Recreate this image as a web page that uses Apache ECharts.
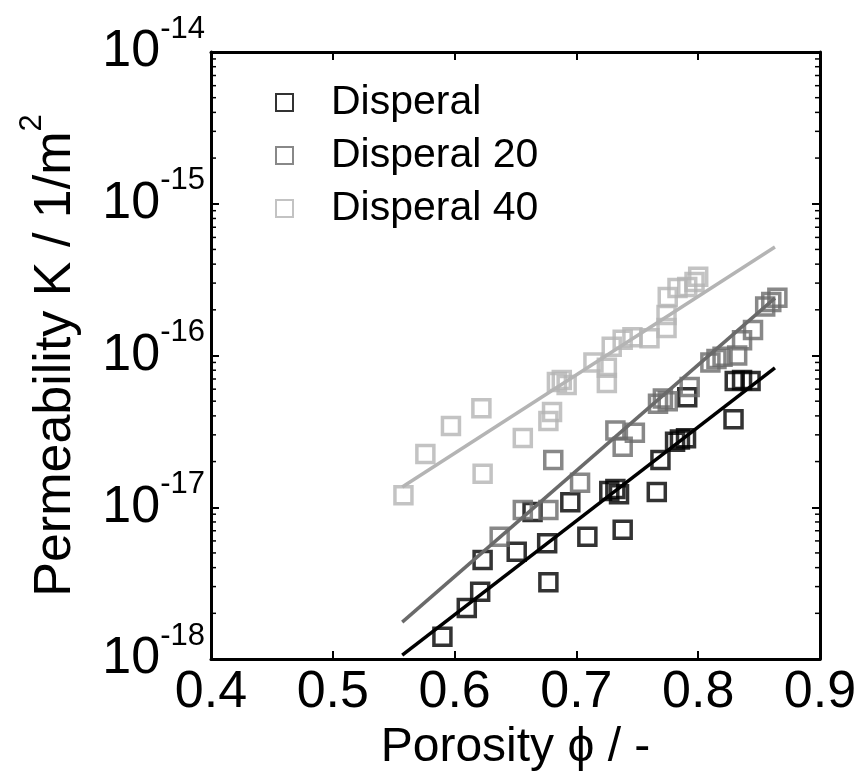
<!DOCTYPE html>
<html><head><meta charset="utf-8">
<script src="https://cdn.jsdelivr.net/npm/echarts@6/dist/echarts.min.js"></script>
<style>html,body{margin:0;padding:0;background:#fff}#c{width:860px;height:783px}</style>
</head><body><div id="c"></div>
<script>
const seriesNames = ['Disperal', 'Disperal 20', 'Disperal 40'];
const seriesColors = ['#000000', '#6a6a6a', '#b4b4b4'];

const disperalX = [0.590,0.610,0.621,0.623,0.651,0.677,0.676,0.664,0.695,0.709,0.727,0.732,0.735,0.738,0.766,0.769,0.781,0.785,0.790,0.791,0.829,0.830,0.836,0.843];
const disperalK = [1.40e-18,2.17e-18,2.77e-18,4.5e-18,5.1e-18,3.2e-18,5.8e-18,9.3e-18,1.08e-17,6.4e-18,1.28e-17,1.32e-17,1.22e-17,7.1e-18,1.26e-17,2.05e-17,2.7e-17,2.8e-17,2.85e-17,5.3e-17,3.8e-17,6.8e-17,6.9e-17,6.8e-17];

const disperal20X = [0.637,0.656,0.677,0.681,0.703,0.732,0.738,0.748,0.767,0.771,0.775,0.793,0.810,0.815,0.820,0.832,0.836,0.845,0.855,0.860,0.865];
const disperal20K = [6.4e-18,9.6e-18,9.6e-18,2.05e-17,1.45e-17,3.2e-17,2.5e-17,3.1e-17,4.8e-17,5.2e-17,5.0e-17,6.2e-17,9.0e-17,9.5e-17,9.8e-17,1.0e-16,1.26e-16,1.47e-16,2.1e-16,2.25e-16,2.4e-16];

const disperal40X = [0.558,0.576,0.597,0.622,0.623,0.656,0.677,0.680,0.684,0.688,0.692,0.714,0.725,0.725,0.729,0.738,0.746,0.760,0.774,0.774,0.775,0.783,0.791,0.797,0.800];
const disperal40K = [1.2e-17,2.24e-17,3.43e-17,4.5e-17,1.66e-17,2.86e-17,3.7e-17,4.25e-17,6.7e-17,6.9e-17,6.4e-17,9.0e-17,8.3e-17,6.6e-17,1.14e-16,1.27e-16,1.32e-16,1.3e-16,1.52e-16,1.85e-16,2.43e-16,2.79e-16,2.83e-16,3.05e-16,3.3e-16];

const fitX = [0.557, 0.863];
const fitDisperalK = [1.06e-18, 8.3e-17];
const fitDisperal20K = [1.75e-18, 2.39e-16];
const fitDisperal40K = [1.36e-17, 5.19e-16];

const minorMultipliers = [2,3,4,5,6,7,8,9];
const minorDecades = [1e-18, 1e-17, 1e-16, 1e-15];

const FONT = 'Liberation Sans, Arial, sans-serif';

const pts = (xs, ks) => xs.map((x, i) => [x, ks[i]]);
const minorTicks = [];
minorDecades.forEach(d => minorMultipliers.forEach(m => minorTicks.push([0.4, m * d])));

function scatter(i, xs, ks) {
  return {
    name: seriesNames[i], type: 'scatter', data: pts(xs, ks), symbol: 'rect', symbolSize: 17,
    itemStyle: { color: 'rgba(255,255,255,0)', borderColor: seriesColors[i], borderWidth: 3.5 },
    z: 3 + i, silent: true
  };
}
function fit(i, ks) {
  return {
    name: 'fit' + i, type: 'line', data: pts(fitX, ks), symbol: 'none',
    lineStyle: { color: seriesColors[i], width: 3.5 }, z: 10, silent: true
  };
}

const chart = echarts.init(document.getElementById('c'));
const yLabelRich = {
  b: { fontSize: 52, fontFamily: FONT, color: '#000', verticalAlign: 'middle' },
  e: { fontSize: 31, fontFamily: FONT, color: '#000', verticalAlign: 'middle', padding: [0, 0, 46, 0] }
};
const tickStyle = { show: true, inside: true, length: 8, lineStyle: { color: '#000', width: 2 } };
const lineStyle = { show: true, lineStyle: { color: '#000', width: 3 } };

chart.setOption({
  animation: false,
  backgroundColor: '#fff',
  grid: { left: 211, right: 40, top: 52, bottom: 124, outerBoundsMode: 'none' },
  legend: {
    data: seriesNames, orient: 'vertical', left: 270, top: 77, icon: 'rect',
    itemWidth: 17, itemHeight: 17, itemGap: 12, selectedMode: false,
    textStyle: { fontSize: 41, lineHeight: 41, fontFamily: FONT, color: '#000', padding: [0, 0, 0, 33] }
  },
  xAxis: [{
    type: 'value', min: 0.4, max: 0.9, interval: 0.1, position: 'bottom',
    axisLine: lineStyle, axisTick: tickStyle, splitLine: { show: false },
    axisLabel: { fontSize: 52, fontFamily: FONT, color: '#000', margin: 8, formatter: v => v.toFixed(1) },
    name: 'Porosity \u03D5 / -', nameLocation: 'middle', nameGap: 51,
    nameTextStyle: { fontSize: 48, fontFamily: FONT, color: '#000' }
  }, {
    type: 'value', min: 0.4, max: 0.9, interval: 0.1, position: 'top',
    axisLine: lineStyle, axisTick: tickStyle, splitLine: { show: false }, axisLabel: { show: false }
  }],
  yAxis: [{
    type: 'log', logBase: 10, min: 1e-18, max: 1e-14, position: 'left',
    axisLine: lineStyle, axisTick: tickStyle, splitLine: { show: false }, minorTick: { show: false },
    axisLabel: {
      margin: 6, color: '#000',
      formatter: v => '{b|10}{e|' + Math.round(Math.log10(v)) + '}',
      rich: yLabelRich
    },
    name: '{a|Permeability K / 1/m}{s|2}', nameLocation: 'middle', nameRotate: 90, nameGap: 117,
    nameTextStyle: {
      color: '#000',
      rich: {
        a: { fontSize: 52, fontFamily: FONT, color: '#000', verticalAlign: 'middle' },
        s: { fontSize: 31, fontFamily: FONT, color: '#000', verticalAlign: 'middle', padding: [0, 0, 46, 0] }
      }
    }
  }, {
    type: 'log', logBase: 10, min: 1e-18, max: 1e-14, position: 'right',
    axisLine: lineStyle, axisTick: tickStyle, splitLine: { show: false }, axisLabel: { show: false }
  }],
  series: [
    scatter(0, disperalX, disperalK),
    scatter(1, disperal20X, disperal20K),
    scatter(2, disperal40X, disperal40K),
    fit(0, fitDisperalK), fit(1, fitDisperal20K), fit(2, fitDisperal40K),
    {
      name: 'minorTicks', type: 'custom', data: minorTicks, silent: true, z: 20, clip: false,
      encode: { x: 0, y: 1 },
      renderItem: (params, api) => {
        const v = api.value(1);
        const l = api.coord([0.4, v]);
        const r = api.coord([0.9, v]);
        const st = { stroke: '#000', lineWidth: 1.5 };
        return { type: 'group', children: [
          { type: 'line', shape: { x1: l[0], y1: l[1], x2: l[0] + 5, y2: l[1] }, style: st },
          { type: 'line', shape: { x1: r[0] - 5, y1: r[1], x2: r[0], y2: r[1] }, style: st }
        ] };
      }
    }
  ]
});
</script></body></html>
